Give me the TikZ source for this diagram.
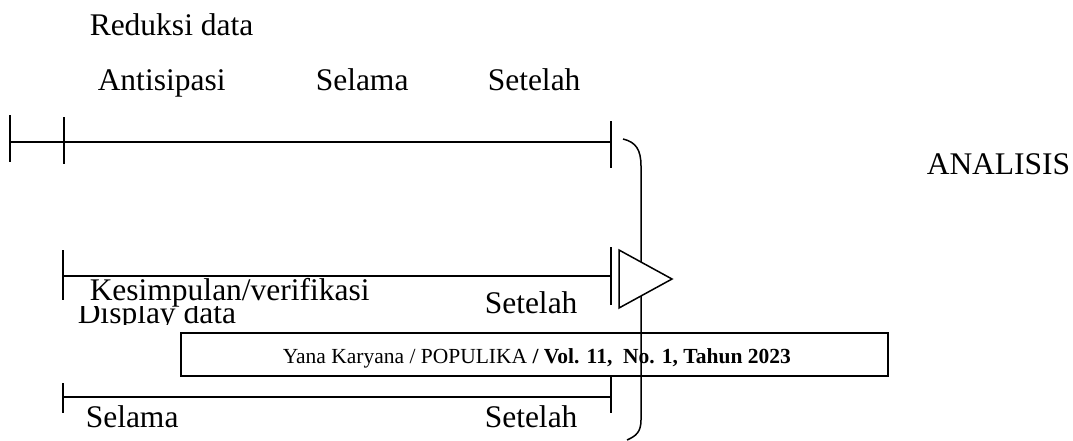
\documentclass[tikz,border=0pt]{standalone}
\usepackage{fontspec}
\setmainfont{Liberation Serif}
\begin{document}
\begin{tikzpicture}[x=1pt,y=-1pt,line width=1.5pt,
  lbl/.style={anchor=base west,inner sep=0pt,font=\fontsize{31.5}{31.5}\selectfont},
  hdr/.style={anchor=base west,inner sep=0pt,font=\fontsize{21.5}{21.5}\selectfont},
  bar/.style={line width=1.5pt},
  brace/.style={line width=1.5pt}]
\useasboundingbox (0,0) rectangle (1073,440);
\fill[white] (0,0) rectangle (1073,440);

% labels
\node[lbl] (reduksi) at (89,35) {Reduksi data};
\node[lbl] (antisipasi) at (97,90) {Antisipasi};
\node[lbl] (selama1) at (315,90) {Selama};
\node[lbl] (setelah1) at (487,90) {Setelah};
\node[lbl] (analisis) at (926,174) {ANALISIS};
\node[lbl] (kesimpulan) at (89,300) {Kesimpulan/verifikasi};
\begin{scope}
  \clip (60,306) rectangle (260,324);
  \node[lbl] (display) at (77,323) {Display data};
\end{scope}
\node[lbl] (setelah2) at (484,313) {Setelah};
\node[lbl] (selama3) at (85,427) {Selama};
\node[lbl] (setelah3) at (484,427) {Setelah};

% line 1
\coordinate (a1) at (10,142);
\coordinate (b1) at (64,142);
\coordinate (c1) at (611,142);
\draw[bar] (a1) -- (c1);
\draw[bar] (10,115) -- (10,162);
\draw[bar] (64,117) -- (64,164);
\draw[bar] (611,121) -- (611,168);

% line 2
\coordinate (a2) at (63,276);
\coordinate (c2) at (611,276);
\draw[bar] (a2) -- (c2);
\draw[bar] (63,250) -- (63,300);
\draw[bar] (611,247) -- (611,305);

% line 3
\coordinate (a3) at (63,397);
\coordinate (c3) at (611,397);
\draw[bar] (a3) -- (c3);
\draw[bar] (63,383) -- (63,413);
\draw[bar] (611,377) -- (611,413);

% header box
\draw[line width=1.3pt,fill=white] (181,333) rectangle (888,376);
\node[hdr] (header) at (282,363) {Yana Karyana / POPULIKA \textbf{/ Vol. 11,\ \ No. 1, Tahun 2023}};

% brace
\draw[brace] (623,139) .. controls (636,142) and (641,150) .. (641,166) -- (641,420) .. controls (641,432) and (636,436) .. (627,440);

% arrow triangle
\draw[line width=1.5pt,fill=white] (619,250) -- (672,279) -- (619,308) -- cycle;
\end{tikzpicture}
\end{document}
